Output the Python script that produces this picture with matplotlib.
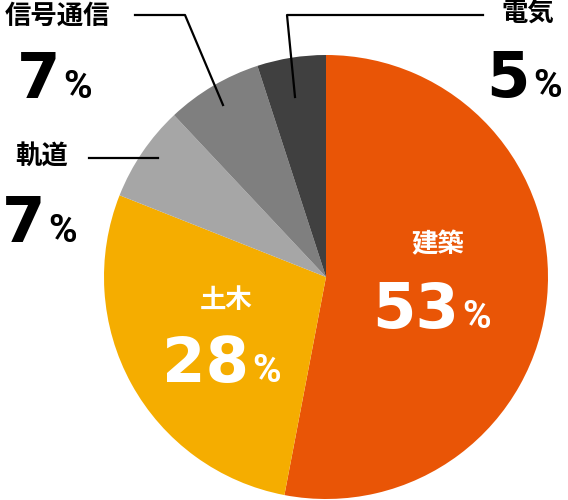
import matplotlib.pyplot as plt

labels = ["建築", "土木", "軌道", "信号通信", "電気"]
values = [53, 28, 7, 7, 5]
colors = ["#E95506", "#F5AD00", "#A6A6A6", "#7F7F7F", "#404040"]

W, H = 568, 500
cx, cy, r = 326, 277, 222

num_font = "DejaVu Sans"
pct_font = "Roboto"
jp_font = ["Noto Sans CJK JP", "DejaVu Sans"]


def py(y):
    # pixel row from top -> data y
    return H - y


fig = plt.figure(figsize=(W / 100, H / 100), dpi=100)
ax = fig.add_axes([0, 0, 1, 1])
ax.pie(values, colors=colors, startangle=90, counterclock=False,
       center=(cx, py(cy)), radius=r, wedgeprops=dict(linewidth=0))
ax.set_xlim(0, W)
ax.set_ylim(0, H)
ax.set_aspect("equal")
ax.axis("off")

# label, name centre, number right edge / baseline, text colour
label_pos = {
    "建築": ((438, 245), (459, 328), "white"),
    "土木": ((226, 300), (249, 382), "white"),
    "軌道": ((42, 156), (45, 242), "black"),
    "信号通信": ((57, 16), (60, 98), "black"),
    "電気": ((528, 14), (530, 97), "black"),
}

for lab, val in zip(labels, values):
    (nx, ny), (dx, dy), c = label_pos[lab]
    ax.text(nx, py(ny), lab, ha="center", va="center", fontsize=19,
            fontweight="bold", family=jp_font, color=c)
    ax.text(dx, py(dy), str(val), ha="right", va="baseline", fontsize=45,
            fontweight="bold", family=num_font, color=c)
    ax.text(dx + 3, py(dy), "%", ha="left", va="baseline", fontsize=28,
            fontweight="bold", family=pct_font, color=c)

# leader lines
lw = 1.6
ax.plot([135, 185, 223], [py(15), py(15), py(105)], color="black", lw=lw)
ax.plot([483, 287, 295], [py(15), py(15), py(97)], color="black", lw=lw)
ax.plot([89, 158], [py(158), py(158)], color="black", lw=lw)

fig.savefig("out.png", dpi=100)
